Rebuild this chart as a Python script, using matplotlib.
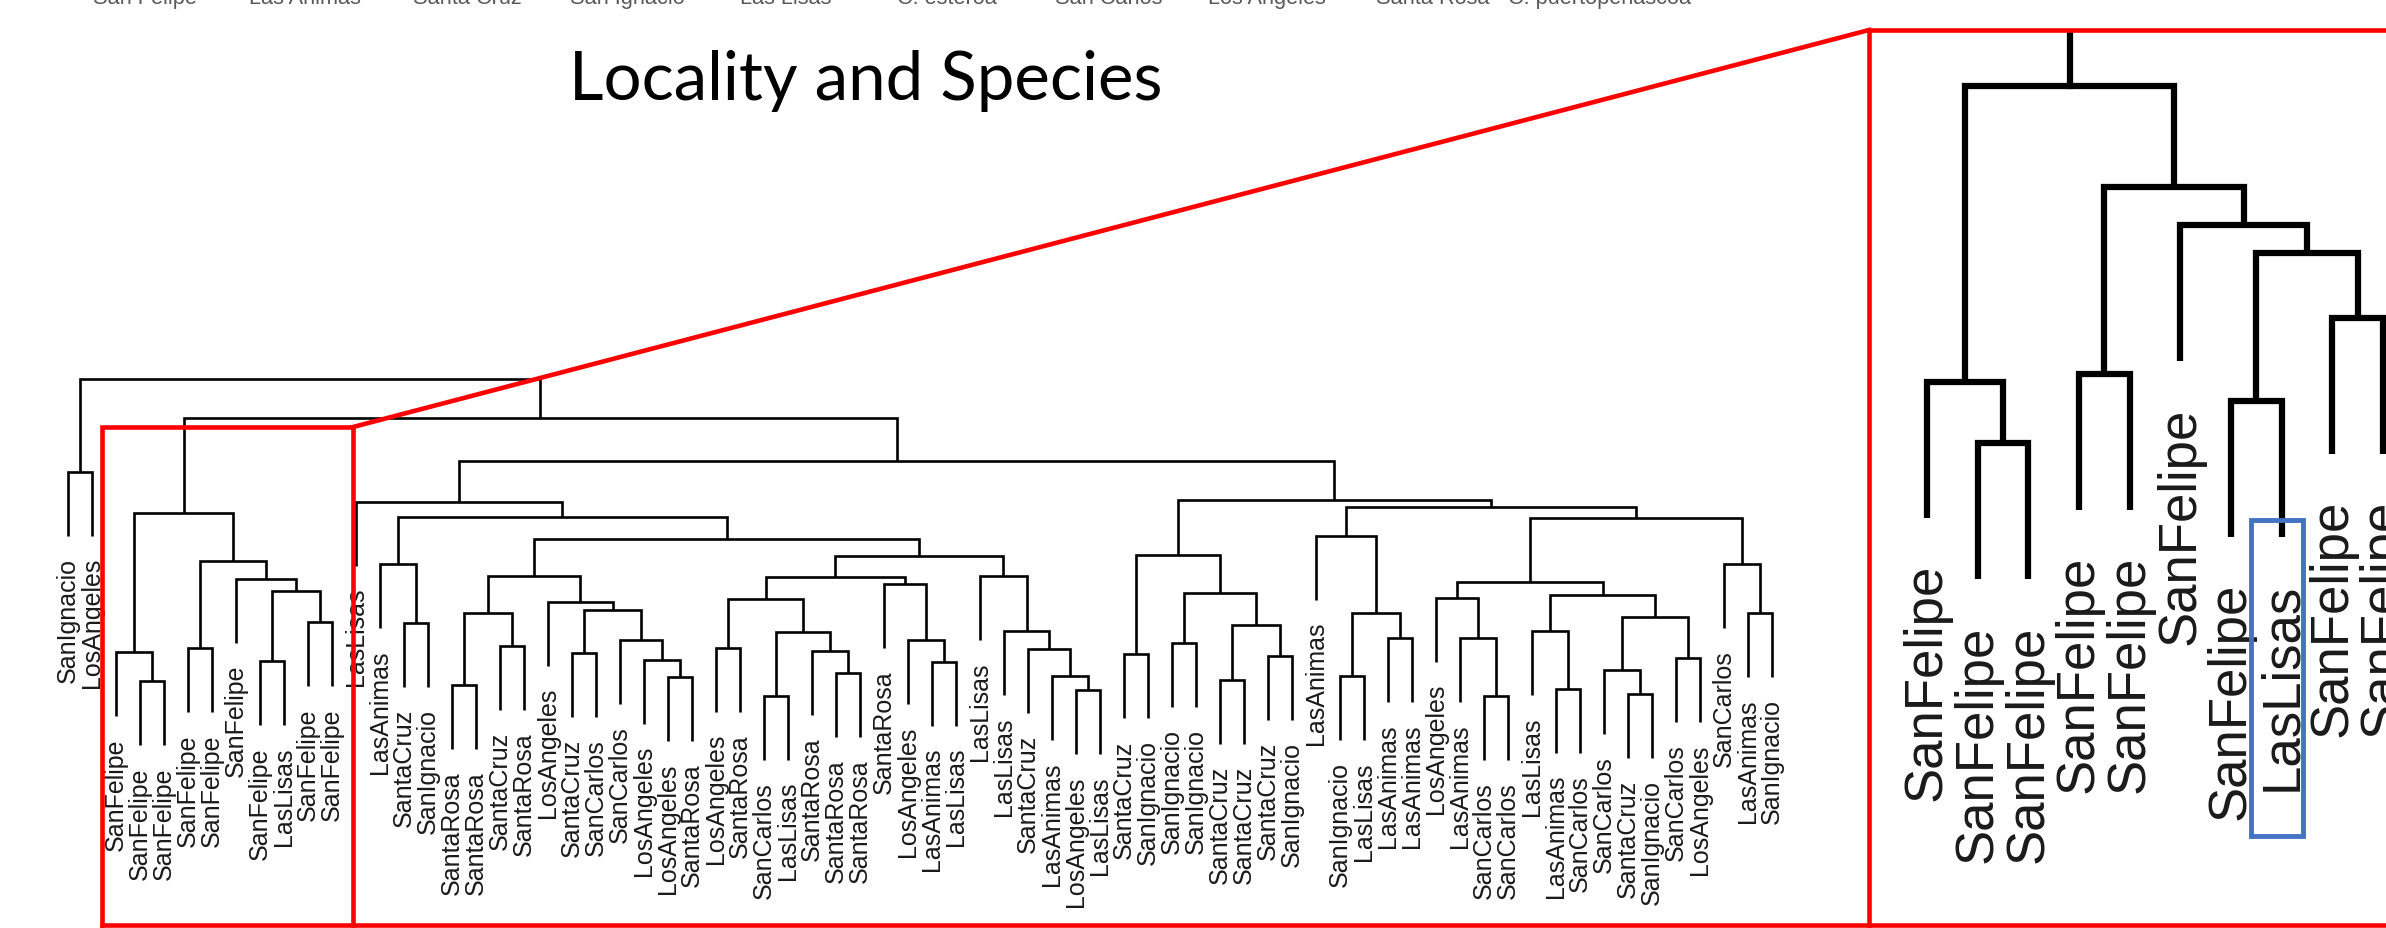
import matplotlib
matplotlib.use("Agg")
import matplotlib.pyplot as plt
from matplotlib.patches import Rectangle

# --- leaf labels, left to right ---
leaf_labels = [
    'SanIgnacio', 'LosAngeles',
    'SanFelipe', 'SanFelipe', 'SanFelipe', 'SanFelipe', 'SanFelipe', 'SanFelipe', 'SanFelipe', 'LasLisas', 'SanFelipe', 'SanFelipe',
    'LasLisas', 'LasAnimas', 'SantaCruz', 'SanIgnacio', 'SantaRosa', 'SantaRosa', 'SantaCruz', 'SantaRosa', 'LosAngeles', 'SantaCruz',
    'SanCarlos', 'SanCarlos', 'LosAngeles', 'LosAngeles', 'SantaRosa', 'LosAngeles', 'SantaRosa', 'SanCarlos', 'LasLisas', 'SantaRosa',
    'SantaRosa', 'SantaRosa', 'SantaRosa', 'LosAngeles', 'LasAnimas', 'LasLisas', 'LasLisas', 'LasLisas', 'SantaCruz', 'LasAnimas',
    'LosAngeles', 'LasLisas', 'SantaCruz', 'SanIgnacio', 'SanIgnacio', 'SanIgnacio', 'SantaCruz', 'SantaCruz', 'SantaCruz', 'SanIgnacio',
    'LasAnimas', 'SanIgnacio', 'LasLisas', 'LasAnimas', 'LasAnimas', 'LosAngeles', 'LasAnimas', 'SanCarlos', 'SanCarlos', 'LasLisas',
    'LasAnimas', 'SanCarlos', 'SanCarlos', 'SantaCruz', 'SanIgnacio', 'SanCarlos', 'LosAngeles', 'SanCarlos', 'LasAnimas', 'SanIgnacio',
]

# --- merges: (height, left, right); ints are leaf indices ---
pair_out = (0.855, 0, 1)
sanfelipe = (0.790,
             (0.573, 2, (0.528, 3, 4)),
             (0.716, (0.579, 5, 6),
              (0.688, 7, (0.668, (0.559, 8, 9), (0.620, 10, 11)))))

grp_L = (0.561, 24, (0.534, 25, 26))
grp_K = (0.592, 23, grp_L)
grp_J = (0.639, (0.572, 21, 22), grp_K)
grp_I = (0.652, 20, grp_J)
grp_H = (0.634, (0.522, 16, 17), (0.583, 18, 19))
grp_G = (0.692, grp_H, grp_I)

grp_S = (0.575, 31, (0.541, 32, 33))
grp_R = (0.605, (0.505, 29, 30), grp_S)
grp_M = (0.656, (0.580, 27, 28), grp_R)
grp_Q = (0.592, 35, (0.558, 36, 37))
grp_P = (0.680, 34, grp_Q)
grp_O = (0.691, grp_M, grp_P)
grp_W = (0.536, 41, (0.514, 42, 43))
grp_V = (0.578, 40, grp_W)
grp_U = (0.606, 39, grp_V)
grp_T = (0.692, 38, grp_U)
grp_N = (0.723, grp_O, grp_T)
grp_F = (0.750, grp_G, grp_N)
grp_E = (0.784, (0.711, 13, (0.619, 14, 15)), grp_F)
grp_D = (0.808, 12, grp_E)

grp_AA = (0.616, (0.530, 48, 49), (0.567, 50, 51))
grp_Z = (0.666, (0.588, 46, 47), grp_AA)
grp_Y = (0.725, (0.570, 44, 45), grp_Z)
grp_AD = (0.634, (0.536, 53, 54), (0.595, 55, 56))
grp_AC = (0.755, 52, grp_AD)
grp_AI = (0.595, 58, (0.505, 59, 60))
grp_AH = (0.658, 57, grp_AI)
grp_AK = (0.606, 61, (0.516, 62, 63))
grp_AM = (0.545, 64, (0.508, 65, 66))
grp_AL = (0.628, grp_AM, (0.564, 67, 68))
grp_AJ = (0.663, grp_AK, grp_AL)
grp_AE = (0.683, grp_AH, grp_AJ)
grp_AG = (0.711, 69, (0.634, 70, 71))
grp_AF = (0.783, grp_AE, grp_AG)
grp_AB = (0.800, grp_AC, grp_AF)
grp_X = (0.811, grp_Y, grp_AB)

grp_C = (0.872, grp_D, grp_X)
grp_B = (0.939, sanfelipe, grp_C)
tree = (1.000, pair_out, grp_B)

HANG = 0.1
GAP = 0.033

# legend strip along the top edge
legend_names = ['San Felipe', 'Las Animas', 'Santa Cruz', 'San Ignacio', 'Las Lisas',
                'C. esteroa', 'San Carlos', 'Los Angeles', 'Santa Rosa', 'C. puertopenascoa']
legend_x = [145, 305, 467, 627, 786, 947, 1109, 1267, 1433, 1600]

W, H = 2386, 929
fig = plt.figure(figsize=(W / 100, H / 100), dpi=100)
fig.patch.set_facecolor('white')
LABEL_FONT = ['Liberation Sans', 'DejaVu Sans']


def px_axes(x0, y0, x1, y1):
    return fig.add_axes([x0 / W, 1 - y1 / H, (x1 - x0) / W, (y1 - y0) / H])


def draw_tree(ax, node, lw, fs, clip, stub=False):
    tips = {}

    def walk(n):
        if isinstance(n, int):
            return n, None
        h, left, right = n
        xl, hl = walk(left)
        xr, hr = walk(right)
        if hl is None:
            tips[xl] = h - HANG
            hl = h - HANG
        if hr is None:
            tips[xr] = h - HANG
            hr = h - HANG
        ax.plot([xl, xl, xr, xr], [hl, h, h, hr], color='black', lw=lw,
                solid_joinstyle='miter', solid_capstyle='butt', clip_on=clip)
        return (xl + xr) / 2, h

    top_x, top_h = walk(node)
    if stub:
        # branch continuing up to the parent of the drawn subtree
        ax.plot([top_x, top_x], [top_h, top_h + 1], color='black', lw=lw, clip_on=True)
    for i, tip in tips.items():
        ax.text(i, tip - GAP, leaf_labels[i], rotation=90, rotation_mode='anchor',
                ha='right', va='center', fontsize=fs, color='#1a1a1a',
                family=LABEL_FONT, clip_on=clip)


# main dendrogram: leaf i at 68 + 24*i px, height h at 1020 - 640*h px
ax = px_axes(0, 0, W, H)
ax.set_xlim(-68 / 24, (W - 68) / 24)
ax.set_ylim((1020 - H) / 640, 1020 / 640)
ax.axis('off')
draw_tree(ax, tree, 1.9, 18, False)

# zoomed view of the San Felipe cluster
inset = px_axes(1869, 31, W, 927)
inset.set_xlim(2 + (1869 - 1927) / 50.67, 2 + (W - 1927) / 50.67)
inset.set_ylim((1162.9 - 927) / 1361.3, (1162.9 - 31) / 1361.3)
inset.axis('off')
draw_tree(inset, sanfelipe, 4.5, 38, True, stub=True)

# annotation layer in pixel coordinates
ov = px_axes(0, 0, W, H)
ov.set_xlim(0, W)
ov.set_ylim(H, 0)
ov.axis('off')
red = '#ff0000'
rlw = 3.3
ov.plot([102, 102, 353, 353], [926, 428, 428, 926], color=red, lw=rlw, solid_joinstyle='miter')
ov.plot([102, W + 10], [926, 926], color=red, lw=rlw)
ov.plot([353, 1869], [428, 31], color=red, lw=rlw)
ov.plot([1869, 1869, W + 10], [926, 31, 31], color=red, lw=rlw, solid_joinstyle='miter')
ov.add_patch(Rectangle((2251, 521), 52, 316, fill=False, edgecolor='#4472c4', lw=3.5))

for name, x in zip(legend_names, legend_x):
    ov.text(x, 4, name, ha='center', va='baseline', fontsize=15.7,
            color='#595959', family=LABEL_FONT)

title = ov.text(866, 100, 'Locality and Species', ha='center', va='baseline',
                fontsize=52, family=['Lato', 'DejaVu Sans'], color='black')
fig.canvas.draw()
tw = title.get_window_extent().width
title.set_fontsize(52 * 594 / tw)

fig.savefig('out.png', dpi=100, facecolor='white')
